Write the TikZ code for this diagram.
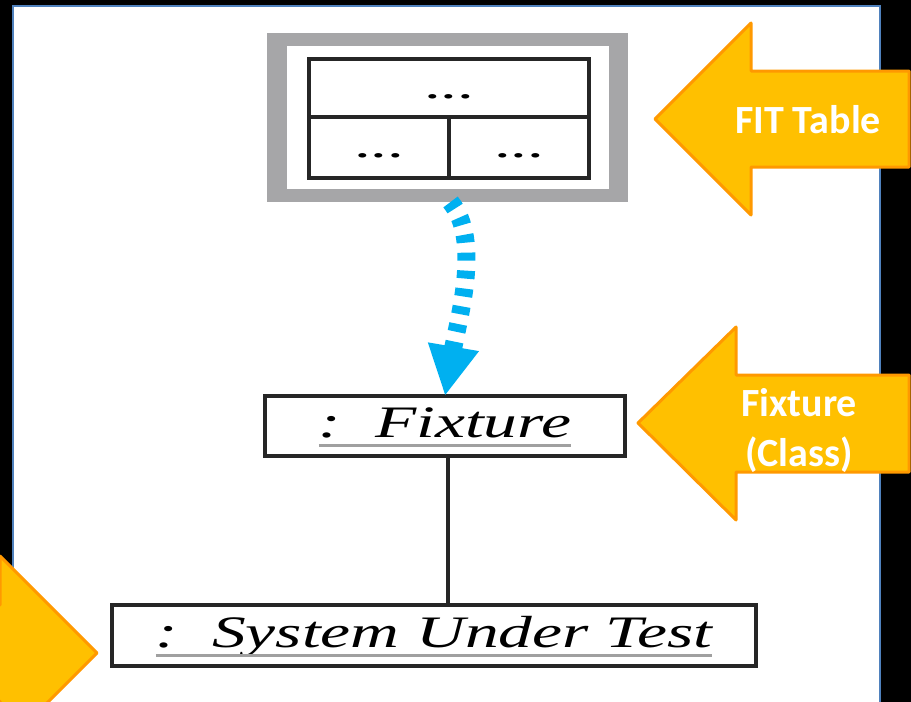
\documentclass[tikz,border=0pt]{standalone}
\usepackage{fontspec}
\usepackage{graphicx}
\newfontfamily\calloutfont{Carlito}
\newfontfamily\umlfont{Liberation Serif}
\usetikzlibrary{%
  positioning,%
  arrows.meta%
}
\definecolor{panelblue}{HTML}{4F81BD}
\definecolor{framegray}{HTML}{A6A6A8}
\definecolor{linedark}{HTML}{262626}
\definecolor{flowblue}{HTML}{00B0F0}
\definecolor{calloutfill}{HTML}{FFC000}
\definecolor{calloutedge}{HTML}{FF9900}
\definecolor{ulgray}{HTML}{A0A0A0}
\newcommand{\objname}[1]{%
  \sbox0{\scalebox{1.5}[1]{#1}}%
  \rlap{\usebox0}\textcolor{ulgray}{\rule[-9.5pt]{\wd0}{3pt}}}
\newcommand{\celldots}{\scalebox{1.75}[1]{...}}

\begin{document}
\begin{tikzpicture}[
      x=1pt, y=-1pt,
      every node/.style={inner sep=0pt, outer sep=0pt},
      uml/.style={
        font=\umlfont\itshape\fontsize{45}{54}\selectfont
      },
      object/.style={
        uml,
        rectangle,
        draw=linedark,
        line width=4pt,
        fill=white,
        minimum height=60pt,
        text height=33pt,
        text depth=10pt,
        minimum width=#1
      },
      cell/.style={
        font=\umlfont\fontsize{38}{46}\selectfont,
        rectangle,
        draw=linedark,
        line width=4pt,
        text height=20pt,
        text depth=0pt,
        minimum width=#1
      },
      link/.style={
        draw=linedark,
        line width=4pt
      },
      flow/.style={
        draw=flowblue,
        line width=18pt,
        dash pattern=on 8pt off 10pt,
        -{Triangle[width=48pt, length=50pt]}
      },
      callout/.style={
        fill=calloutfill,
        draw=calloutedge,
        line width=3pt,
        line join=round
      },
      calloutlabel/.style={
        text=white,
        align=center,
        font=\calloutfont\bfseries\fontsize{40}{50}\selectfont
      }
    ]
    \useasboundingbox (0,0) rectangle (911,702);
    \clip (0,0) rectangle (911,702);
    \fill[black] (0,0) rectangle (911,702);
    \draw[draw=panelblue, line width=1.5pt, fill=white] (13,6) rectangle (880,720);

    \node[fill=framegray, minimum width=361pt, minimum height=169pt]
      (Frame) at (447.5,117.5) {};
    \node[fill=white, minimum width=322pt, minimum height=143pt]
      (FrameInner) at (Frame.center) {};

    \node[cell=280pt, minimum height=58.5pt]
      (TopCell) at (449,88)
      {\celldots};
    \node[cell=140pt, minimum height=61pt,
          below right=0pt and 0pt of TopCell.south west]
      (LeftCell)
      {\celldots};
    \node[cell=140pt, minimum height=61pt,
          below left=0pt and 0pt of TopCell.south east]
      (RightCell)
      {\celldots};

    \node[object=360pt]
      (Fixture) at (445,426)
      {\objname{:\ \ Fixture}};

    \node[object=644pt, minimum height=61pt]
      (SUT) at (434,635.5)
      {\objname{:\ \ System Under Test}};

    \draw[link] ([xshift=3pt]Fixture.south) -- ([xshift=3pt]Fixture.south |- SUT.north);
    \draw[flow] ([xshift=3pt]Frame.south)
      .. controls (482,240) and (458,320) .. (Fixture.north);

    \draw[callout] (655,119) -- (751,23) -- (751,71) -- (909,71)
      -- (909,167) -- (751,167) -- (751,215) -- cycle;
    \draw[callout] (638,423) -- (736,327) -- (736,375) -- (909,375)
      -- (909,472) -- (736,472) -- (736,520) -- cycle;
    \draw[callout] (97,653) -- (0,556) -- (0,605) -- (-60,605)
      -- (-60,701) -- (0,701) -- (0,750) -- cycle;

    \node[calloutlabel]
      (FitLabel) at (808,120)
      {FIT Table};
    \node[calloutlabel]
      (FixtureLabel) at (799,430)
      {Fixture\\(Class)};
  \end{tikzpicture}
\end{document}
